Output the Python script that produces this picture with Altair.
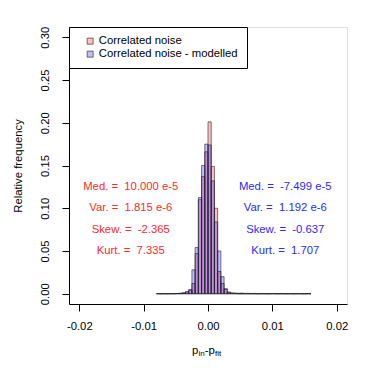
import altair as alt
import pandas as pd

FONT = "Liberation Sans"
FS = 11.3

# ---- data -------------------------------------------------------------
bin_start = -0.008
bin_width = 0.0005
series_names = ["Correlated noise", "Correlated noise - modelled"]
series_colors = ["rgba(255,0,0,0.25)", "rgba(0,0,255,0.25)"]

noise = [0.0002, 0.0, 0.0002, 0.0, 0.0002, 0.0002, 0.0003, 0.0005,
         0.001, 0.002, 0.004, 0.012, 0.047, 0.110, 0.137, 0.166,
         0.201, 0.149, 0.100, 0.026, 0.012, 0.005, 0.002, 0.001,
         0.0008, 0.0006, 0.0008, 0.0004, 0.0005, 0.0003, 0.0004, 0.0,
         0.0003, 0.0002, 0.0, 0.0002, 0.0003, 0.0, 0.0002, 0.0002,
         0.0, 0.0002, 0.0, 0.0002, 0.0002, 0.0, 0.0002, 0.0002]
modelled = [0.0, 0.0, 0.0, 0.0, 0.0, 0.0, 0.0002, 0.0005,
            0.001, 0.0025, 0.005, 0.028, 0.054, 0.1125, 0.150, 0.175,
            0.174, 0.132, 0.084, 0.050, 0.020, 0.006, 0.0016, 0.0005,
            0.0003, 0.0, 0.0, 0.0, 0.0, 0.0, 0.0, 0.0,
            0.0, 0.0, 0.0, 0.0, 0.0, 0.0, 0.0, 0.0,
            0.0, 0.0, 0.0, 0.0, 0.0, 0.0, 0.0, 0.0]

x_ticks = [-0.02, -0.01, 0.0, 0.01, 0.02]
y_ticks = [0.0, 0.05, 0.10, 0.15, 0.20, 0.25, 0.30]

stat_y = [0.125, 0.10, 0.075, 0.05]
red_x = -0.012
blue_x = 0.012
red_labels = ["Med. =\u00a0 10.000 e-5", "Var. =\u00a0 1.815 e-6",
              "Skew. =\u00a0 -2.365", "Kurt. =\u00a0 7.335"]
blue_labels = ["Med. =\u00a0 -7.499 e-5", "Var. =\u00a0 1.192 e-6",
               "Skew. =\u00a0 -0.637", "Kurt. =\u00a0 1.707"]

rows = []
for name, vals in zip(series_names, [noise, modelled]):
    for i, v in enumerate(vals):
        lo = round(bin_start + i * bin_width, 6)
        rows.append({"series": name, "lo": lo, "hi": round(lo + bin_width, 6), "freq": v})
df = pd.DataFrame(rows)

x_scale = alt.Scale(domain=[-0.0216, 0.0216], nice=False, zero=False)
y_scale = alt.Scale(domain=[-0.012, 0.312], nice=False, zero=False)

x_axis = alt.Axis(
    values=x_ticks, title=None, grid=False,
    labelExpr="datum.value < 0 ? '-' + format(-datum.value, '.2f') : format(datum.value, '.2f')",
    tickSize=7, tickColor="black", domainColor="black",
    labelFont=FONT, labelFontSize=FS, labelColor="black",
    labelBaseline="alphabetic", labelPadding=18, labelFlush=False, labelOverlap=False,
)
y_axis = alt.Axis(
    values=y_ticks, grid=False,
    labelExpr="format(datum.value, '.2f')",
    tickSize=7, tickColor="black", domainColor="black",
    labelFont=FONT, labelFontSize=FS, labelColor="black",
    labelAngle=270, labelAlign="center", labelBaseline="alphabetic", labelPadding=13.5,
    labelFlush=False, labelOverlap=False,
    title="Relative frequency", titleFont=FONT, titleFontSize=FS, titleFontWeight="normal",
    titleColor="black", titleAngle=270, titleX=-48, titleY=138.5,
    titleAlign="center", titleBaseline="alphabetic",
)

legend = alt.Legend(
    orient="none", legendX=0, legendY=0, title=None,
    fillColor="white", strokeColor="black", padding=8.5,
    symbolType="square", symbolSize=36, symbolStrokeColor="#333333", symbolStrokeWidth=0.7,
    symbolOffset=7, labelOffset=3, rowPadding=1,
    labelFont=FONT, labelFontSize=FS, labelColor="black", labelLimit=300,
)

bars = alt.Chart(df).mark_bar(stroke="#222222", strokeWidth=0.6).encode(
    x=alt.X("lo:Q", scale=x_scale, axis=x_axis),
    x2="hi:Q",
    y=alt.Y("freq:Q", scale=y_scale, stack=None, axis=y_axis),
    y2=alt.datum(0),
    color=alt.Color("series:N", scale=alt.Scale(domain=series_names, range=series_colors), legend=legend),
)

red_df = pd.DataFrame({"label": red_labels, "x": [red_x] * 4, "y": stat_y})
blue_df = pd.DataFrame({"label": blue_labels, "x": [blue_x] * 4, "y": stat_y})

red_text = alt.Chart(red_df).mark_text(font=FONT, fontSize=FS, color="#ff2a2a", align="center", baseline="middle").encode(
    x=alt.X("x:Q", scale=x_scale), y=alt.Y("y:Q", scale=y_scale), text="label:N")
blue_text = alt.Chart(blue_df).mark_text(font=FONT, fontSize=FS, color="#2a2aff", align="center", baseline="middle").encode(
    x=alt.X("x:Q", scale=x_scale), y=alt.Y("y:Q", scale=y_scale), text="label:N")

# x-axis title  p_in - p_fit  (with subscripts)
title_pieces = ["p", "in", "-", "p", "fit"]
title_sub = [False, True, False, False, True]
title_dx = [-16, -9.6, -3.3, 0.6, 7.0]
title_layers = []
for piece, sub, dx in zip(title_pieces, title_sub, title_dx):
    title_layers.append(
        alt.Chart(pd.DataFrame({"t": [piece], "z": [0.0]})).mark_text(
            font=FONT, fontSize=8.0 if sub else FS, color="black",
            align="left", baseline="alphabetic", dx=dx,
        ).encode(x=alt.X("z:Q", scale=x_scale), y=alt.value(328.7 if sub else 326.5), text="t:N")
    )

chart = alt.layer(bars, red_text, blue_text, *title_layers).properties(
    width=278, height=277,
    autosize=alt.AutoSizeParams(type="none"),
    padding={"left": 61, "top": 19, "right": 19, "bottom": 62},
).configure_view(stroke=None).configure(background="white")

chart.save("out.html", embed_options={"renderer": "svg", "actions": False})
